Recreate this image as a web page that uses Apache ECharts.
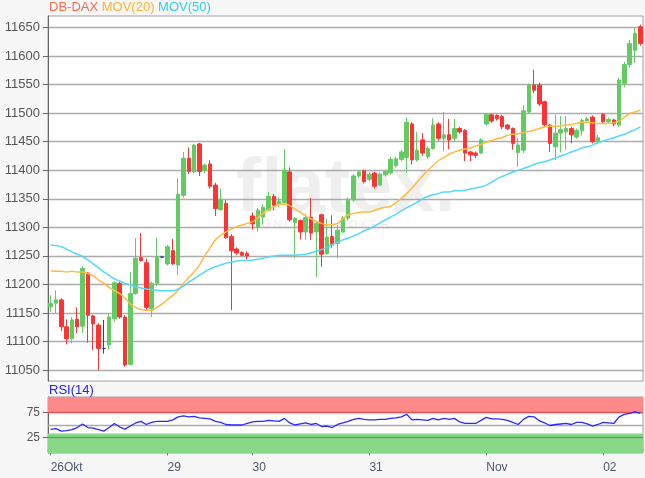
<!DOCTYPE html>
<html><head><meta charset="utf-8">
<script src="https://cdn.jsdelivr.net/npm/echarts@6/dist/echarts.min.js"></script>
<style>html,body{margin:0;padding:0;background:#f7f7f7}#c{width:645px;height:478px}</style>
</head><body><div id="c"></div>
<script>
// candles: [open, close, low, high]
const ohlc = [
[11161,11167,11152,11181],[11167,11173,11150,11190],[11173,11126,11118,11176],[11126,11105,11095,11139],
[11105,11138,11097,11143],[11139,11126,11115,11160],[11127,11228,11115,11232],[11220,11146,11098,11222],
[11145,11131,11085,11147],[11129,11088,11050,11132],[11088,11088,11079,11138],[11094,11143,11086,11150],
[11140,11203,11135,11206],[11202,11143,11140,11205],[11143,11059,11056,11146],[11060,11184,11058,11222],
[11184,11246,11182,11281],[11247,11242,11240,11290],[11238,11160,11155,11245],[11158,11202,11143,11205],
[11202,11249,11197,11282],[11248,11248,11246,11250],[11236,11266,11233,11269],[11259,11236,11234,11280],
[11234,11358,11216,11386],[11356,11421,11352,11432],[11421,11398,11393,11440],[11397,11444,11395,11446],
[11446,11398,11390,11448],[11400,11409,11395,11412],[11411,11372,11368,11418],[11374,11333,11320,11378],
[11331,11349,11329,11368],[11342,11282,11280,11348],[11284,11259,11155,11288],[11262,11255,11252,11265],
[11256,11251,11249,11258],[11254,11250,11244,11258],[11320,11306,11296,11326],[11300,11330,11292,11334],
[11318,11335,11305,11340],[11330,11354,11328,11362],[11354,11339,11330,11358],[11340,11346,11335,11352],
[11343,11400,11340,11437],[11397,11313,11310,11405],[11308,11316,11246,11318],[11312,11292,11279,11314],
[11292,11317,11278,11324],[11318,11290,11278,11351],[11292,11307,11213,11310],[11322,11253,11231,11324],
[11254,11283,11252,11315],[11284,11269,11264,11321],[11272,11295,11246,11304],[11292,11316,11290,11320],
[11316,11348,11312,11352],[11348,11390,11345,11393],[11390,11397,11387,11400],[11399,11380,11377,11401],
[11384,11393,11381,11396],[11395,11372,11368,11397],[11374,11393,11372,11396],[11392,11398,11389,11401],
[11395,11419,11393,11423],[11408,11420,11405,11424],[11419,11432,11416,11436],[11422,11484,11395,11492],
[11481,11418,11410,11484],[11418,11435,11415,11467],[11453,11430,11425,11465],[11424,11438,11420,11442],
[11438,11479,11436,11491],[11481,11456,11452,11484],[11456,11462,11433,11502],[11462,11453,11437,11490],
[11456,11473,11450,11490],[11473,11467,11464,11476],[11470,11430,11416,11472],[11432,11427,11416,11434],
[11430,11426,11421,11433],[11430,11453,11428,11456],[11481,11498,11478,11500],[11497,11486,11483,11499],
[11496,11490,11487,11498],[11494,11476,11472,11497],[11479,11473,11470,11481],[11473,11447,11436,11475],
[11431,11444,11406,11456],[11435,11504,11430,11514],[11502,11549,11500,11552],[11549,11540,11535,11576],
[11549,11516,11512,11553],[11520,11480,11476,11522],[11479,11447,11432,11481],[11441,11465,11418,11497],
[11465,11471,11431,11495],[11467,11473,11436,11495],[11473,11462,11447,11476],[11458,11470,11455,11473],
[11469,11487,11460,11490],[11487,11490,11484,11493],[11493,11450,11447,11496],[11450,11457,11446,11462],
[11498,11485,11482,11500],[11485,11489,11483,11492],[11488,11481,11477,11490],[11479,11558,11476,11562],
[11552,11585,11545,11590],[11585,11622,11580,11628],[11610,11640,11588,11650],[11651,11622,11618,11655]
];
const ma20 = [
11224,11223,11223,11222,11223,11222,11222,11219,11215,11208,11202,11195,11189,11184,11176,11166,
11160,11156,11155,11155,11160,11166,11174,11181,11190,11202,11212,11222,11234,11250,11264,11278,
11286,11292,11297,11301,11304,11307,11310,11317,11325,11331,11336,11340,11341,11338,11332,11326,
11320,11315,11310,11307,11304,11305,11307,11315,11322,11324,11326,11327,11327,11330,11333,11335,
11337,11343,11351,11359,11369,11379,11390,11400,11408,11417,11422,11428,11432,11435,11437,11439,
11442,11445,11449,11452,11455,11457,11461,11463,11464,11466,11468,11470,11473,11476,11477,11477,
11478,11479,11480,11482,11484,11484,11483,11482,11482,11482,11483,11486,11493,11499,11502,11505
];
const ma50 = [
11269,11268,11266,11262,11257,11253,11249,11243,11236,11229,11222,11216,11210,11206,11202,11199,
11196,11194,11192,11191,11190,11189,11189,11189,11192,11197,11204,11210,11216,11222,11227,11231,
11234,11237,11239,11241,11242,11242,11243,11244,11246,11248,11250,11251,11251,11251,11251,11252,
11253,11255,11258,11261,11265,11270,11274,11278,11281,11285,11289,11294,11298,11302,11308,11313,
11318,11323,11329,11334,11339,11344,11350,11354,11357,11359,11362,11362,11364,11364,11365,11367,
11369,11371,11374,11379,11385,11389,11393,11397,11400,11403,11406,11410,11413,11415,11418,11421,
11425,11428,11432,11435,11439,11441,11444,11448,11451,11454,11457,11460,11463,11467,11471,11476
];
const rsi = [
41.5,43,38,39,41,45,52,45,44,41,38,45,53,46,42,48,54,57,51,55,57,57,57,60,66,68,66,67,64,63,62,57,
55,51,50,50,50,53,56,57,57,59,58,57,63,54,50,52,54,51,53,47,48,45,51,54,57,61,63,61,60,60,61,61,
63,64,66,71,60,61,60,59,63,60,63,61,63,56,53,53,53,59,65,62,62,61,59,55,51,61,67,66,58,54,49,51,
52,53,51,55,55,52,48,51,55,54,53,66,71,73,76,73
];
const priceTicks = [11050,11100,11150,11200,11250,11300,11350,11400,11450,11500,11550,11600,11650];
const rsiTicks = [25,75];
const dayTickIndex = [0,22,38,60,82,104];
const dayTickLabels = ['26Okt','29','30','31','Nov','02'];

const cats = ohlc.map((d,i)=>String(i));
const isDay = (i)=>dayTickIndex.indexOf(i) >= 0;
const FONT = 'Liberation Sans, Arial, sans-serif';

const chart = echarts.init(document.getElementById('c'));
chart.setOption({
  backgroundColor:'#f7f7f7',
  animation:false,
  textStyle:{fontFamily:FONT},
  graphic:[
    {type:'text', left:49, top:1, z:10, style:{text:'{a|DB-DAX} {b|MOV(20)} {c|MOV(50)}', font:'13px '+FONT,
      rich:{a:{fill:'#ff6a50',fontSize:13,fontFamily:FONT},b:{fill:'#ffb32e',fontSize:13,fontFamily:FONT},c:{fill:'#2fcdf5',fontSize:13,fontFamily:FONT}}}},
    {type:'text', left:49, top:384, z:10, style:{text:'RSI(14)', fill:'#2222ff', font:'13px '+FONT}},
    {type:'text', left:236, top:152, z:1, silent:true, style:{text:'flatex.', fill:'rgba(150,150,150,0.15)', font:'bold 76px '+FONT}},
    {type:'text', left:262, top:219, z:1, silent:true, style:{text:'O N L I N E   B R O K E R', fill:'rgba(150,150,150,0.2)', font:'11px '+FONT}}
  ],
  grid:[
    {left:48, right:2, top:16, height:365, show:true, backgroundColor:'#fff', borderColor:'#a0a0a0', borderWidth:1},
    {left:48, right:2, top:397, height:56, show:true, backgroundColor:'#fff', borderColor:'#a0a0a0', borderWidth:1}
  ],
  xAxis:[
    {type:'category', gridIndex:0, data:cats, boundaryGap:true, axisLine:{show:false}, axisTick:{show:false}, axisLabel:{show:false}, splitLine:{show:false}},
    {type:'category', gridIndex:1, data:cats, boundaryGap:true,
      axisLine:{show:true, lineStyle:{color:'#777'}},
      axisTick:{show:true, alignWithLabel:true, interval:(i)=>isDay(i), length:5, lineStyle:{color:'#777'}},
      axisLabel:{interval:(i)=>isDay(i), formatter:(v,i)=>dayTickLabels[dayTickIndex.indexOf(Number(v))] || '', align:'left', color:'#4a5868', fontSize:12, margin:9},
      splitLine:{show:false}}
  ],
  yAxis:[
    {type:'value', gridIndex:0, min:11031, max:11670,
      axisLine:{show:true, lineStyle:{color:'#666'}},
      axisTick:{show:true, length:5, customValues:priceTicks, lineStyle:{color:'#666'}},
      axisLabel:{customValues:priceTicks, formatter:(v)=>String(Math.round(v)), color:'#555', fontSize:13, margin:8},
      splitLine:{show:true, lineStyle:{color:'#acacac', width:1.3}}},
    {type:'value', gridIndex:1, min:-5, max:105,
      axisLine:{show:true, lineStyle:{color:'#666'}},
      axisTick:{show:true, length:5, customValues:rsiTicks, lineStyle:{color:'#666'}},
      axisLabel:{customValues:rsiTicks, formatter:(v)=>String(Math.round(v)), color:'#555', fontSize:12, margin:8},
      splitLine:{show:false}}
  ],
  series:[
    {type:'candlestick', xAxisIndex:0, yAxisIndex:0, data:ohlc, barWidth:4,
      itemStyle:{color:'#62cc62', color0:'#ff3333', borderColor:'#62cc62', borderColor0:'#ff3333', borderColorDoji:'#3333cc', borderWidth:1}},
    {type:'line', xAxisIndex:0, yAxisIndex:0, data:ma20, showSymbol:false, smooth:true, lineStyle:{color:'#ffbb44', width:1.5}, z:3},
    {type:'line', xAxisIndex:0, yAxisIndex:0, data:ma50, showSymbol:false, smooth:true, lineStyle:{color:'#55d8fa', width:1.5}, z:3},
    {type:'line', xAxisIndex:1, yAxisIndex:1, data:rsi, showSymbol:false, lineStyle:{color:'#2a2aff', width:1.3}, z:5,
      markArea:{silent:true, data:[
        [{yAxis:73, itemStyle:{color:'#ff8888'}},{yAxis:105}],
        [{yAxis:-5, itemStyle:{color:'#88d888'}},{yAxis:33.5}]
      ]},
      markLine:{silent:true, symbol:'none', label:{show:false}, data:[
        {yAxis:75, lineStyle:{color:'#d55a5a', width:1.3, type:'solid'}},
        {yAxis:50, lineStyle:{color:'#aaaaaa', width:1.3, type:'solid'}},
        {yAxis:25, lineStyle:{color:'#55aa55', width:1.3, type:'solid'}}
      ]}}
  ]
});
</script></body></html>
